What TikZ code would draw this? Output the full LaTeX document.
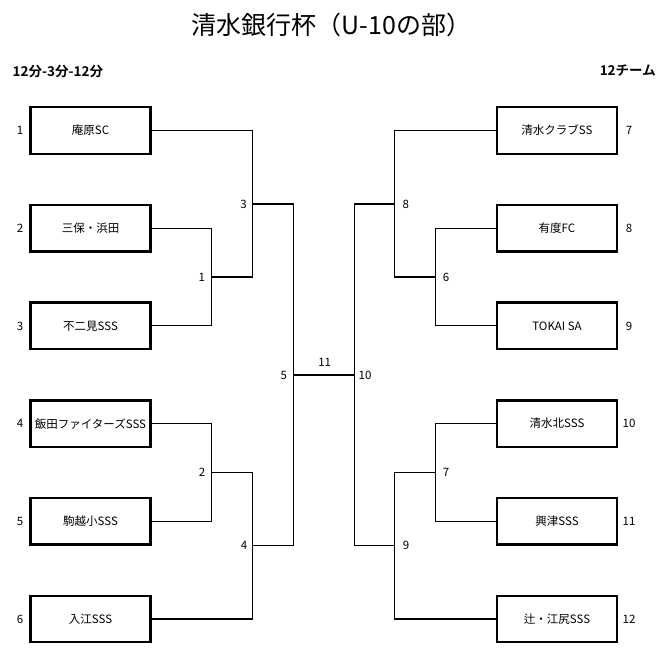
\documentclass[tikz,border=0pt]{standalone}
\usepackage{fontspec}
\setmainfont{Noto Sans CJK JP}[BoldFont={Noto Sans CJK JP Bold}]
\begin{document}
\begin{tikzpicture}[x=1pt,y=-1pt,
  team/.style={draw,line width=2.4pt,minimum width=120pt,minimum height=46.5pt,inner sep=0pt,font=\fontsize{11.5}{12}\selectfont},
  lbl/.style={inner sep=0pt,font=\fontsize{11.5}{12}\selectfont},
  conn/.style={line width=1.1pt}]
\useasboundingbox (0,0) rectangle (662,659);
\node[font=\fontsize{25}{27}\selectfont,inner sep=0pt,anchor=west] (title) at (191.5,25) {清水銀行杯（U-10の部）};
\node[font=\bfseries\fontsize{13.5}{14}\selectfont,inner sep=0pt,anchor=west] (sub) at (12.5,71) {12分-3分-12分};
\node[font=\bfseries\fontsize{13.5}{14}\selectfont,inner sep=0pt,anchor=east] (cnt) at (656,71) {12チーム};
% left teams
\node[team] (t1) at (90.5,130.5) {庵原SC};
\node[team] (t2) at (90.5,228.2) {三保・浜田};
\node[team] (t3) at (90.5,325.9) {不二見SSS};
\node[team] (t4) at (90.5,423.6) {飯田ファイターズSSS};
\node[team] (t5) at (90.5,521.3) {駒越小SSS};
\node[team] (t6) at (90.5,619) {入江SSS};
% right teams
\node[team] (t7) at (557,130.5) {清水クラブSS};
\node[team] (t8) at (557,228.2) {有度FC};
\node[team] (t9) at (557,325.9) {TOKAI SA};
\node[team] (t10) at (557,423.6) {清水北SSS};
\node[team] (t11) at (557,521.3) {興津SSS};
\node[team] (t12) at (557,619) {辻・江尻SSS};
% seeds
\foreach \n/\y in {1/130.5,2/228.2,3/325.9,4/423.6,5/521.3,6/619}
  \node[lbl] (s\n) at (20,\y) {\n};
\foreach \n/\y in {7/130.5,8/228.2,9/325.9,10/423.6,11/521.3,12/619}
  \node[lbl] (s\n) at (629,\y) {\n};
% match points
\coordinate (m1) at (211.7,277);
\coordinate (m2) at (211.7,472.4);
\coordinate (m3) at (252.3,204);
\coordinate (m4) at (252.3,545.7);
\coordinate (m5) at (293.3,375);
\coordinate (m6) at (435.3,277);
\coordinate (m7) at (435.3,472.4);
\coordinate (m8) at (394.3,204);
\coordinate (m9) at (394.3,545.7);
\coordinate (m10) at (354.3,375);
% connectors left
\draw[conn] (t2.east) -| (m1) |- (t3.east);
\draw[conn] (t4.east) -| (m2) |- (t5.east);
\draw[conn] (t1.east) -| (m3) |- (m1);
\draw[conn] (m2) -| (m4) |- (t6.east);
\draw[conn] (m3) -| (m5) |- (m4);
% connectors right
\draw[conn] (t8.west) -| (m6) |- (t9.west);
\draw[conn] (t10.west) -| (m7) |- (t11.west);
\draw[conn] (t7.west) -| (m8) |- (m6);
\draw[conn] (m7) -| (m9) |- (t12.west);
\draw[conn] (m8) -| (m10) |- (m9);
% final
\draw[conn] (m5) -- (m10);
% match labels
\node[lbl] (l1) at (201.7,277) {1};
\node[lbl] (l2) at (202,472.4) {2};
\node[lbl] (l3) at (243.5,204) {3};
\node[lbl] (l4) at (244,545.7) {4};
\node[lbl] (l5) at (283.7,375) {5};
\node[lbl] (l6) at (446,277) {6};
\node[lbl] (l7) at (446,472.4) {7};
\node[lbl] (l8) at (405.7,204) {8};
\node[lbl] (l9) at (406,545.7) {9};
\node[lbl] (l10) at (365,375) {10};
\node[lbl] (l11) at (324.7,362) {11};
\end{tikzpicture}
\end{document}
